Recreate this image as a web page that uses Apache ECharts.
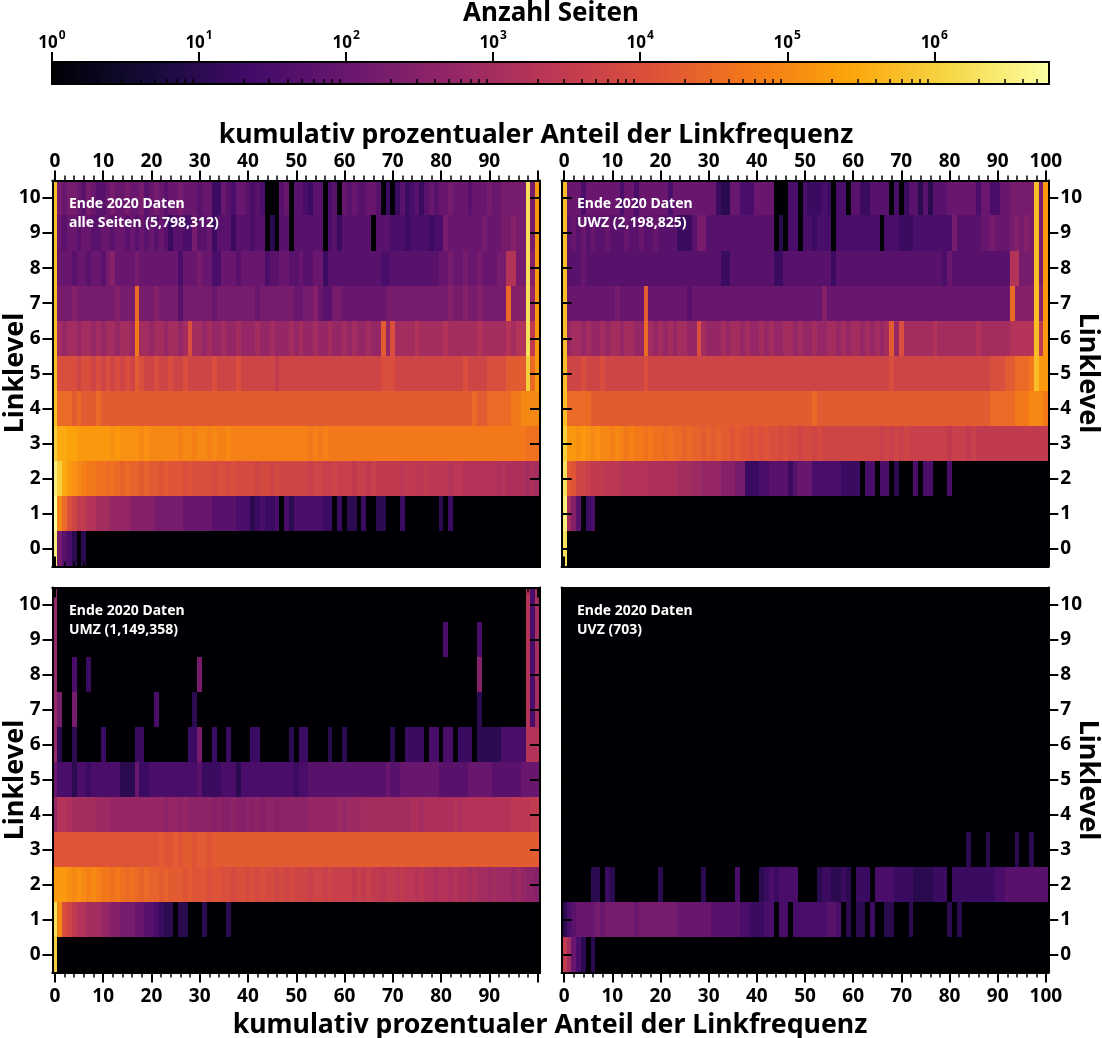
<!DOCTYPE html>
<html><head><meta charset="utf-8">
<script src="https://cdn.jsdelivr.net/npm/echarts@6/dist/echarts.min.js"></script>
<style>html,body{margin:0;padding:0;background:#fff}#c{width:1102px;height:1038px}</style>
</head><body><div id="c"></div>
<script>
// each character = log10(Anzahl Seiten): "0".."R" = 0, 0.25, ... 6.75 ; lowercase "a".."z" = half steps 0.125, 0.375, ...
const CODE = "0123456789ABCDEFGHIJKLMNOPQR";
const HALF = "abcdefghijklmnopqrstuvwxyz";
const xCats = Array.from({length:101}, (_, i) => String(i));
const yCats = ['0','1','2','3','4','5','6','7','8','9','10'];
const cbMajor = [0,1,2,3,4,5,6];
const cbMinorMult = [2,3,4,5,6,7,8,9];
const LOGMAX = 6.78;
const INFERNO = ['#000004','#160b39','#420a68','#6a176e','#932667','#bc3754','#dd513a','#f37819','#fca50a','#f6d746','#fcffa4'];

// rows listed from Linklevel 10 (top) down to 0; columns 0..100
const panelTL = [
"N 9899879877 8988988978 9878898887 8855876887 6760007807 7657706708 7877887050 5756757878 8988878889 8899999P9L",
"N 8788788778 8788787878 7875776697 7857775777 6770407707 7777706757 7777707776 6656666566 9888888898 8899A99P9L",
"N 8887887887 9A88889888 8888868889 8866888788 8886778877 8778857777 7777777667 7777777778 8988988988 899DD99PAL",
"N 999A999999 99A999I999 A999979999 9989999999 9899999998 899A877998 8888888899 9999999999 9A99A99A99 999IAAAPBL",
"N CBCCBCCBCB CCBCCBJCCB CCBCCBCGCC BCBBCBBCBB BCBBCBBBCB CBBCBBCBBC BCBBCBBHBG CCCCDCCCCC DCCCCCCDCC CCCDCDDPEL",
"N GGGGFGGFGF GFGFGFHGFF GFFGFFGFFF FFGFFFFGFF FFFFFEFFFF FFFFFFFFFF FFFFFFFGGG FFFFFFFFFF FFFFGFFFFG GGGHHHHOIL",
"N IIIHIHHHIH HHHHHHHHHH HHHHHHHHHH HHHHHHHHHH HHHHHHHHHH HHHHHHHHHH HHHHHHHHHH HHHHHHHHHH HHHHHHIHHI IIIIJJKKKK",
"O MMvvLLLLLL LuLuuuuKuK KKKKKtKKtK KtKttKtttt tttttttttt ttJtJtJJJJ JJJJJJJJJJ JJJJJJJJJJ JJJJJJJJJJ JJJJJJJsss",
"Q OMLuKtJJss IsIrIrrHrH HqHqqqGqGG GGpGGpGppp pFppFpFFFF FFoFFooFoo oEooEoEEEE EnEEnnEnnn nDnnDDDDDD DmDmmmmCmC",
"R KIGFEEDDCC CBBBBAAAAA 9999998888 8877777666 4565560646 6666655050 4405004400 0500000004 0500000000 0000000000",
"Q 9764040000 0000000000 0000000000 0000000000 0000000000 0000000000 0000000000 0000000000 0000000000 0000000000"
];
const panelTR = [
"N 8886888888 8688688888 8688888888 8544886668 8880006606 5556506607 7557777060 5774747778 8888868866 8899999N9L",
"N 7878787787 7787787787 7775557997 7777777777 7770406606 6566606666 6666606665 5566666666 9777778898 889A9A9N9L",
"N 7778777777 7777777777 7777777777 7755777777 7775577777 7777757777 7777777777 7777777768 7777777777 77DD999N9L",
"N 8888888888 988888H888 8888878888 8888888888 8888888888 888A888888 8888888888 8888888888 8888888888 88IAAAANAL",
"N BCCBCBBCBC CBCCBBICBC BCBCCBBGCB BBCBCCBCBB CBCBBCCBCB BCBBCCBCBC CBCBCBCHBG CCCCCCDCCC CCCCCDCCCC CCDDDDDNEL",
"N FFFGFFFGFF FFFFFFGFFF FFFFFFFFFF FFFFFFFFFF FFFFFFFFFF FFFFFFFFFF FFFFFFFGFF FFFFFFFFFF FFFFFFFFGG GHHIIIJNLL",
"N IIIIIHHHHH HHHHHHHHHH HHHHHHHHHH HHHHHHHHHH HHHHHHHHHH HIHHHHHHHH HHHHHHHHHH HHHHHHHHHH HHHHHHHHII IIIJJJKKKJ",
"O LLuLuKuKKt KtJtJJsJss IsIIrIrrHr HrHHqHqqGq GqGGpGppFp pFpFFFFFFF FFFFFoFoFo FooooooooE oooEoEEEEE EEEEEEEEEE",
"P HqFFoEEEnn nDDDDDDmmm mmmCCCllBB BBAAA99555 6677775788 8666666555 5066066040 0060660006 0000000000 0000000000",
"Q CA70560000 0000000000 0000000000 0000000000 0000000000 0000000000 0000000000 0000000000 0000000000 0000000000",
"P 0000000000 0000000000 0000000000 0000000000 0000000000 0000000000 0000000000 0000000000 0000000000 0000000000"
];
const panelBL = [
"B 0000000000 0000000000 0000000000 0000000000 0000000000 0000000000 0000000000 0000000000 0000000000 0000000D6C",
"B 0000000000 0000000000 0000000000 0000000000 0000000000 0000000000 0000000000 0000000000 6000000600 0000000D6C",
"B 0006005000 0000000000 0000000009 0000000000 0000000000 0000000000 0000000000 0000000000 0000000A00 0000000D6C",
"B 9009000000 0000000000 6000000040 0000000000 0000000000 0000000000 0000000000 0000000000 0000000400 0000000D6C",
"B 4004000005 0000005500 0000000559 0050050000 5500000040 5500004004 0000000004 0055550660 6605550444 4466666DDD",
"8 6664665666 6664448556 6666666667 5555666466 6666666665 6677777777 7777777787 7888888887 7777788888 7777778888",
"B DDmCCCCCll lBBBBBBBBB BBkBBkBkkk kkAkAAkAAk AkAkkAkkkk kkBBBBBBlB lllCCCCCCC CCCmmCmmmm mmDmDDDDDD DDDDnnnnEE",
"q qqqqqqqqqq qqqqqqqqqq qHqqHqHHqH HqHHHHHHHH HHHHHHHHHH HHHHHHHHHH HHHHHHHHHH HHHHHHHHHH HHHHHHHHHH HHHHHHHHHH",
"L LLuKuKtKtJ JsJsIsIrIr rHrHHHqHqq qGqqGGpGGp GpGppFpFpF FFoFFoFooo oEoEoEEnEE nEnnDnDDmD DmDmmCmCCl ClllBlBkkA",
"P KGFEDDCCCB BAA9998877 6544044000 4000040000 0000000000 0000000000 0000000000 0000000000 0000000000 0000000000",
"O 0000000000 0000000000 0000000000 0000000000 0000000000 0000000000 0000000000 0000000000 0000000000 0000000000"
];
const panelBR = [
"0 0000000000 0000000000 0000000000 0000000000 0000000000 0000000000 0000000000 0000000000 0000000000 0000000000",
"0 0000000000 0000000000 0000000000 0000000000 0000000000 0000000000 0000000000 0000000000 0000000000 0000000000",
"0 0000000000 0000000000 0000000000 0000000000 0000000000 0000000000 0000000000 0000000000 0000000000 0000000000",
"0 0000000000 0000000000 0000000000 0000000000 0000000000 0000000000 0000000000 0000000000 0000000000 0000000000",
"0 0000000000 0000000000 0000000000 0000000000 0000000000 0000000000 0000000000 0000000000 0000000000 0000000000",
"0 0000000000 0000000000 0000000000 0000000000 0000000000 0000000000 0000000000 0000000000 0000000000 0000000000",
"0 0000000000 0000000000 0000000000 0000000000 0000000000 0000000000 0000000000 0000000000 0000000000 0000000000",
"0 0000000000 0000000000 0000000000 0000000000 0000000000 0000000000 0000000000 0000000000 0004000400 0004004000",
"0 0000044054 0000000004 0000000040 0000060000 4565666600 0045544540 5550666655 5544445550 5555555556 6777777777",
"4 6788889899 9999899999 9998888888 7777776655 5660660666 6666776040 4405004400 0400000004 0400000000 0000000000",
"E C864040000 0000000000 0000000000 0000000000 0000000000 0000000000 0000000000 0000000000 0000000000 0000000000"
];
const panelText = [
  ['Ende 2020 Daten', 'alle Seiten (5,798,312)'],
  ['Ende 2020 Daten', 'UWZ (2,198,825)'],
  ['Ende 2020 Daten', 'UMZ (1,149,358)'],
  ['Ende 2020 Daten', 'UVZ (703)']
];

const FONT = '"Noto Sans", "DejaVu Sans", sans-serif';
const panels = [panelTL, panelTR, panelBL, panelBR];
const grids = [
  {left: 52.5, top: 180.4, width: 487.5, height: 386},
  {left: 561.7, top: 180.4, width: 486.6, height: 386},
  {left: 52.5, top: 587.4, width: 487.5, height: 385},
  {left: 561.7, top: 587.4, width: 486.6, height: 385},
  {left: 52, top: 62, width: 997, height: 22}
];
// [topOut, topLabels, bottomOut, bottomLabels, leftOut, leftLabels, rightOut, rightLabels, lastXLabel]
const cfg = [
  [true, true, false, false, true, true, false, false, false],
  [true, true, false, false, false, false, true, true, true],
  [false, false, true, true, true, true, false, false, false],
  [false, false, true, true, false, false, true, true, true]
];

function level(ch) {
  const u = CODE.indexOf(ch);
  if (u >= 0) return u / 4;
  return (HALF.indexOf(ch) + 0.5) / 4;
}
function decode(rows) {
  const out = [];
  rows.forEach((r, ri) => {
    const s = r.replace(/ /g, '');
    for (let i = 0; i < s.length; i++) out.push([i, 10 - ri, level(s[i])]);
  });
  return out;
}
const lab = {fontFamily: FONT, fontWeight: 'bold', fontSize: 19, color: '#000'};
const lineS = {color: '#000', width: 2};
function xPair(g, pos, out, labels, last) {
  const base = {type: 'category', gridIndex: g, data: xCats, position: pos, z: 10,
    axisLine: {show: true, onZero: false, lineStyle: lineS}, splitLine: {show: false}, splitArea: {show: false}};
  return [
    Object.assign({}, base, {axisTick: {show: true, inside: !out, alignWithLabel: true, length: 5,
      interval: (i) => i % 2 === 0, lineStyle: {color: '#000', width: 1.5}}, axisLabel: {show: false}}),
    Object.assign({}, base, {axisTick: {show: true, inside: !out, alignWithLabel: true, length: 10,
      interval: (i) => i % 10 === 0, lineStyle: lineS},
      axisLabel: labels ? Object.assign({show: true, margin: pos === 'top' ? 9 : 15,
        interval: (i) => i % 10 === 0 && (last || i !== 100)}, lab) : {show: false}})
  ];
}
function yAx(g, pos, out, labels) {
  return {type: 'category', gridIndex: g, data: yCats, position: pos, z: 10,
    axisLine: {show: true, onZero: false, lineStyle: lineS},
    axisTick: {show: true, inside: !out, alignWithLabel: true, length: 10, lineStyle: lineS},
    axisLabel: labels ? Object.assign({show: true, margin: 12, interval: 0}, lab) : {show: false},
    splitLine: {show: false}, splitArea: {show: false}};
}
// heat cells: edges snapped to whole pixels so neighbouring cells share borders (no seams)
function cellItem(params, api) {
  const c = api.coord([api.value(0), api.value(1)]);
  const s = api.size([1, 1]);
  const x0 = Math.round(c[0] - s[0] / 2), x1 = Math.round(c[0] + s[0] / 2);
  const y0 = Math.round(c[1] - s[1] / 2), y1 = Math.round(c[1] + s[1] / 2);
  return {type: 'rect', shape: {x: x0, y: y0, width: x1 - x0, height: y1 - y0},
    style: {fill: api.visual('color')}};
}
const xAxis = [], yAxis = [], series = [];
cfg.forEach((c, p) => {
  xAxis.push(...xPair(p, 'top', c[0], c[1], c[8]));
  xAxis.push(...xPair(p, 'bottom', c[2], c[3], c[8]));
  yAxis.push(yAx(p, 'left', c[4], c[5]));
  yAxis.push(yAx(p, 'right', c[6], c[7]));
  series.push({type: 'custom', xAxisIndex: 4 * p + 1, yAxisIndex: 2 * p, data: decode(panels[p]),
    encode: {x: 0, y: 1}, renderItem: cellItem, silent: true, z: 2});
});
// colour bar axes
const cbMinor = [];
cbMajor.forEach(k => cbMinorMult.forEach(m => { const v = k + Math.log10(m); if (v < LOGMAX - 0.01) cbMinor.push(v); }));
const cbBase = {type: 'value', gridIndex: 4, position: 'top', min: 0, max: LOGMAX, z: 10,
  axisLine: {show: false}, splitLine: {show: false}};
xAxis.push(Object.assign({}, cbBase, {axisTick: {show: true, customValues: cbMinor, length: 5, lineStyle: {color: '#000', width: 1.5}}, axisLabel: {show: false}}));
xAxis.push(Object.assign({}, cbBase, {axisTick: {show: true, customValues: cbMajor, length: 10, lineStyle: lineS},
  axisLabel: {show: true, customValues: cbMajor, margin: 10, formatter: (v) => '{b|10}{s|' + Math.round(v) + '}',
    rich: {b: {fontFamily: FONT, fontWeight: 'bold', fontSize: 17, color: '#000', lineHeight: 22, verticalAlign: 'bottom'},
           s: {fontFamily: FONT, fontWeight: 'bold', fontSize: 12, color: '#000', lineHeight: 22, verticalAlign: 'top', padding: [0, 0, 6, 1]}}}}));
yAxis.push({type: 'value', gridIndex: 4, min: 0, max: 1, show: false});
const stops = INFERNO.map((c, i) => ({offset: i / (INFERNO.length - 1), color: c}));
series.push({type: 'custom', xAxisIndex: 17, yAxisIndex: 8, data: [[0, 0]], silent: true, z: 1,
  renderItem: (params) => {
    const cs = params.coordSys;
    return {type: 'rect', shape: {x: cs.x, y: cs.y, width: cs.width, height: cs.height},
      style: {fill: new echarts.graphic.LinearGradient(0, 0, 1, 0, stops), stroke: '#000', lineWidth: 2}};
  }});

const tf = (size) => 'bold ' + size + 'px ' + FONT;
const graphic = [
  {type: 'text', x: 551, y: 14, z: 100, style: {text: 'Anzahl Seiten', font: tf(26), fill: '#000', align: 'center', verticalAlign: 'middle'}},
  {type: 'text', x: 536, y: 135, z: 100, style: {text: 'kumulativ prozentualer Anteil der Linkfrequenz', font: tf(26.7), fill: '#000', align: 'center', verticalAlign: 'middle'}},
  {type: 'text', x: 550, y: 1025, z: 100, style: {text: 'kumulativ prozentualer Anteil der Linkfrequenz', font: tf(26.7), fill: '#000', align: 'center', verticalAlign: 'middle'}},
  {type: 'text', x: 15, y: 373, rotation: Math.PI / 2, z: 100, style: {text: 'Linklevel', font: tf(27), fill: '#000', align: 'center', verticalAlign: 'middle'}},
  {type: 'text', x: 15, y: 780, rotation: Math.PI / 2, z: 100, style: {text: 'Linklevel', font: tf(27), fill: '#000', align: 'center', verticalAlign: 'middle'}},
  {type: 'text', x: 1088, y: 373, rotation: -Math.PI / 2, z: 100, style: {text: 'Linklevel', font: tf(27), fill: '#000', align: 'center', verticalAlign: 'middle'}},
  {type: 'text', x: 1088, y: 780, rotation: -Math.PI / 2, z: 100, style: {text: 'Linklevel', font: tf(27), fill: '#000', align: 'center', verticalAlign: 'middle'}}
];
const annPos = [[69, 204.5], [577, 204.5], [69, 611.5], [577, 611.5]];
panelText.forEach((t, p) => {
  graphic.push({type: 'text', x: annPos[p][0], y: annPos[p][1], z: 100, style: {text: t[0], font: tf(14), fill: '#fff', align: 'left', verticalAlign: 'middle'}});
  graphic.push({type: 'text', x: annPos[p][0], y: annPos[p][1] + 18.5, z: 100, style: {text: t[1], font: tf(14), fill: '#fff', align: 'left', verticalAlign: 'middle'}});
});

const chart = echarts.init(document.getElementById('c'), null, {renderer: 'canvas'});
chart.setOption({
  animation: false,
  backgroundColor: '#fff',
  grid: grids.map(g => Object.assign({containLabel: false}, g)),
  xAxis, yAxis,
  visualMap: [{type: 'continuous', show: false, min: 0, max: LOGMAX, dimension: 2, seriesIndex: [0, 1, 2, 3], inRange: {color: INFERNO}}],
  series,
  graphic
});
</script></body></html>
